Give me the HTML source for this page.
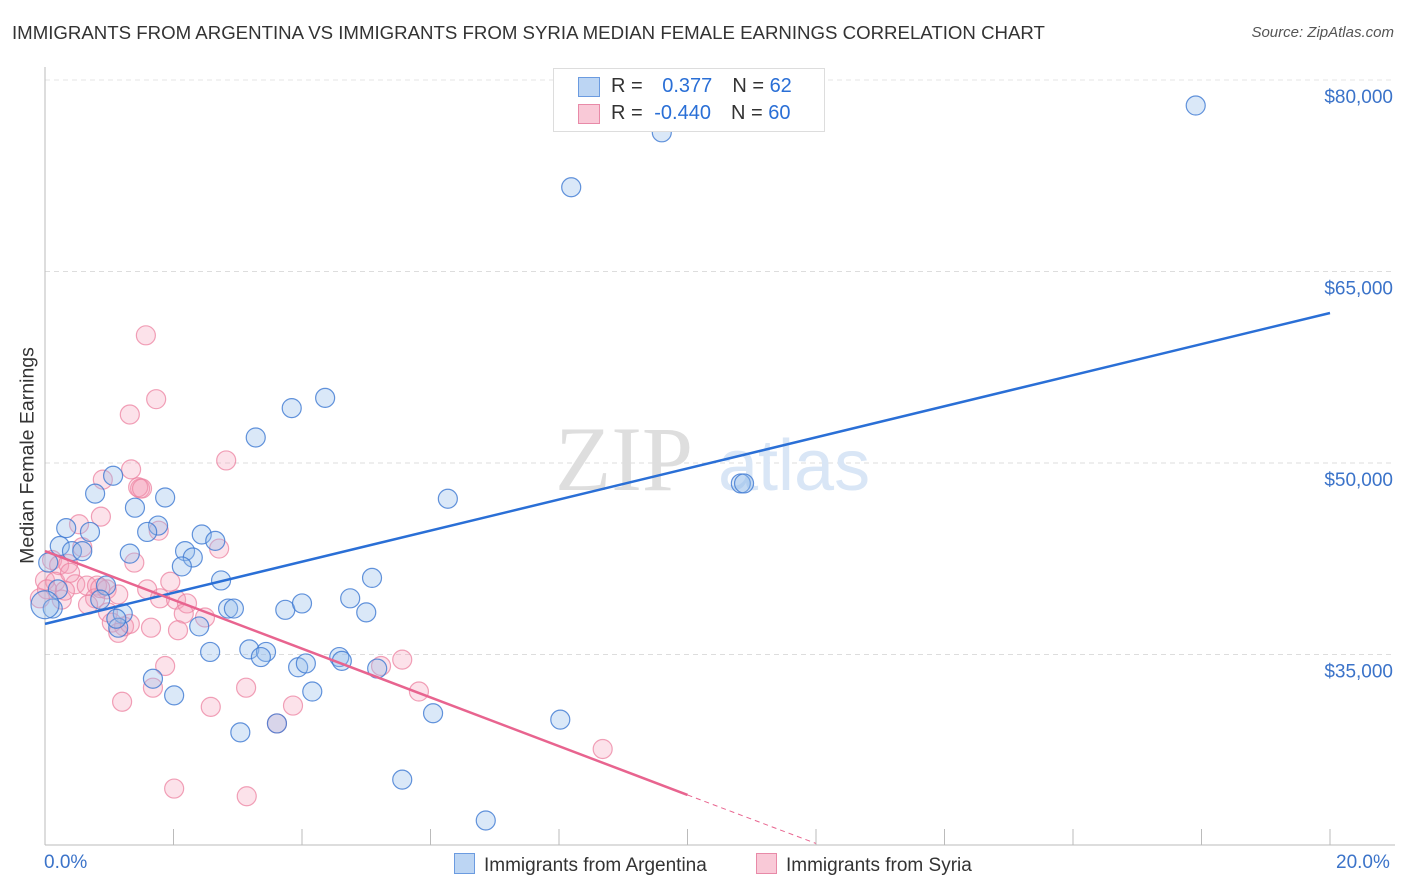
<!DOCTYPE html>
<html><head><meta charset="utf-8"><style>
body{margin:0;background:#fff;font-family:"Liberation Sans",sans-serif;}
#wrap{position:relative;width:1406px;height:892px;overflow:hidden;}
.t{position:absolute;white-space:nowrap;}
</style></head><body>
<div id="wrap">
<div class="t" style="left:12px;top:22px;font-size:18.65px;color:#333;">IMMIGRANTS FROM ARGENTINA VS IMMIGRANTS FROM SYRIA MEDIAN FEMALE EARNINGS CORRELATION CHART</div>
<div class="t" style="right:12px;top:24px;font-size:15px;color:#555;font-style:italic;">Source: ZipAtlas.com</div>
<svg id="svg" width="1406" height="892" style="position:absolute;left:0;top:0"></svg>
</div>
<script>
const xTicks=[0,2,4,6,8,10,12,14,16,18,20];
const yTicks=[35000,50000,65000,80000];
const yTickLabels=["$35,000","$50,000","$65,000","$80,000"];
function konv(p){return Math.round((p-45)/64.25*100)/100;}
function konvY(p){return Math.round((50000-(p-463)*78.33)/100)*100;}
const argX=[1196,662,571,325,292,256,448,741,744,113,95,135,165,66,90,158,147,202,215,60,72,82,185,193,182,130,48,106,221,372,350,228,234,285,302,366,100,123,199,118,210,249,266,261,298,306,339,342,377,312,153,174,240,277,433,560,402,486,116,58,53,45].map(konv);
const argY=[106,132,187,398,408,438,499,483,484,476,494,508,498,528,532,526,532,534,541,546,551,551,551,557,566,554,563,585,581,578,598,608,608,610,604,612,600,614,627,628,652,649,652,657,667,664,657,661,669,692,679,695,733,724,713,720,780,821,619,590,608,605].map(konvY);
const syrX=[146,156,130,226,131,103,140,138,142,79,159,101,82,219,52,59,68,134,45,55,75,87,97,107,118,62,147,170,160,176,187,95,108,184,112,124,151,118,178,165,153,246,381,402,122,211,293,419,277,603,174,247,47,40,70,100,65,130,88,205].map(konv);
const syrY=[335,399,414,461,470,479,488,487,489,524,531,517,547,548,560,565,564,562,580,582,584,586,586,590,594,600,590,582,598,600,604,598,612,614,622,626,628,633,630,666,688,688,666,659,702,707,706,691,724,749,789,796,590,598,573,588,591,624,605,617].map(konvY);
const argTrend=[37400,61750];
const syrTrend=[43100,24000,20200];

const svg=document.getElementById('svg');const NS='http://www.w3.org/2000/svg';
const X=v=>45+v*64.25, Y=v=>463-(v-50000)*0.012767;
function mk(tag,a,name,par){const e=document.createElementNS(NS,tag);for(const k in a)e.setAttribute(k,a[k]);


(par||svg).appendChild(e);return e;}
yTicks.forEach((v,i)=>{mk('line',{x1:45,x2:1395,y1:Y(v),y2:Y(v),stroke:'#ddd','stroke-dasharray':'5,4'},'y-gridline');
const t=mk('text',{x:1393,y:Y(v)+23,'text-anchor':'end','font-size':19,fill:'#3b73c9','font-family':'Liberation Sans'},'y-tick-label');t.textContent=yTickLabels[i];});
mk('line',{x1:45,x2:1395,y1:80,y2:80,stroke:'#e6e6e6','stroke-dasharray':'5,4'},'top-gridline');
mk('line',{x1:45,x2:45,y1:67,y2:845,stroke:'#bbb'},'y-axis');
mk('line',{x1:45,x2:1395,y1:845,y2:845,stroke:'#bbb'},'x-axis');
xTicks.forEach(v=>mk('line',{x1:X(v),x2:X(v),y1:829,y2:845,stroke:'#bbb'},'x-tick'));
const wm=mk('text',{x:555,y:490,'font-size':92,fill:'#dedede','font-family':'Liberation Serif'},'watermark');wm.textContent='ZIP';
const wm2=mk('text',{x:718,y:490,'font-size':72,fill:'#d9e6f6','font-family':'Liberation Sans'},'watermark-atlas');wm2.textContent='atlas';
syrX.forEach((x,i)=>mk('circle',{cx:X(x),cy:Y(syrY[i]),r:9.5,fill:'rgba(244,160,185,0.3)',stroke:'rgba(236,130,160,0.75)','stroke-width':1.2},'syria-point'));
argX.forEach((x,i)=>mk('circle',{cx:X(x),cy:Y(argY[i]),r:i==argX.length-1?14:9.5,fill:'rgba(150,190,235,0.35)',stroke:'rgba(60,120,210,0.8)','stroke-width':1.2},'argentina-point'));
mk('line',{x1:X(0),y1:Y(argTrend[0]),x2:X(20),y2:Y(argTrend[1]),stroke:'#2a6fd6','stroke-width':2.5},'argentina-trend-line');
mk('line',{x1:X(0),y1:Y(syrTrend[0]),x2:X(10),y2:Y(syrTrend[1]),stroke:'#e8648f','stroke-width':2.5},'syria-trend-line');
mk('line',{x1:X(10),y1:Y(syrTrend[1]),x2:X(12),y2:Y(syrTrend[2]),stroke:'#e8648f','stroke-width':1,'stroke-dasharray':'5,4'},'syria-trend-extension');
</script>
<div class="t" style="left:-82px;top:444px;transform:rotate(-90deg);font-size:19.5px;color:#333;width:220px;text-align:center;">Median Female Earnings</div>
<div class="t" style="left:44px;top:852px;font-size:19px;color:#3b73c9;">0.0%</div>
<div class="t" style="left:1336px;top:852px;font-size:19px;color:#3b73c9;">20.0%</div>
<div style="position:absolute;left:553px;top:68px;width:270px;height:62px;border:1px solid #ddd;background:#fff;font-size:20px;">
 <div style="position:absolute;left:24px;top:8px;width:20px;height:18px;background:#bcd5f3;border:1px solid #6b9be0;"></div>
 <div class="t" style="left:57px;top:6px;color:#333;">R = <span style="color:#2a6fd6;margin-left:14px">0.377</span><span style="margin-left:20px">N = </span><span style="color:#2a6fd6"> 62</span></div>
 <div style="position:absolute;left:24px;top:35px;width:20px;height:18px;background:#f9c9d7;border:1px solid #e88aa8;"></div>
 <div class="t" style="left:57px;top:33px;color:#333;">R = <span style="color:#2a6fd6;margin-left:6px">-0.440</span><span style="margin-left:20px">N = </span><span style="color:#2a6fd6"> 60</span></div>
</div>
<div style="position:absolute;left:454px;top:853px;font-size:19px;color:#333;">
 <span style="display:inline-block;width:19px;height:19px;background:#bcd5f3;border:1px solid #6b9be0;vertical-align:-3px;margin-right:9px"></span>Immigrants from Argentina</div>
<div style="position:absolute;left:756px;top:853px;font-size:19px;color:#333;">
 <span style="display:inline-block;width:19px;height:19px;background:#f9c9d7;border:1px solid #e88aa8;vertical-align:-3px;margin-right:9px"></span>Immigrants from Syria</div>
</body></html>
